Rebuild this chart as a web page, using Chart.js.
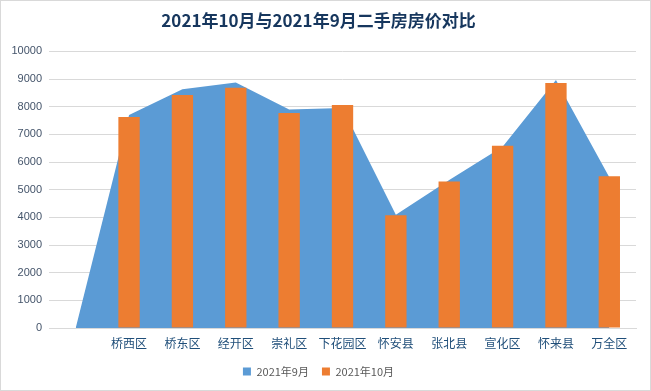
<!DOCTYPE html>
<html>
<head>
<meta charset="utf-8">
<script src="https://cdn.jsdelivr.net/npm/chart.js@4/dist/chart.umd.min.js"></script>
<style>
  html, body { margin: 0; padding: 0; background: #fff; }
  #wrap { width: 651px; height: 391px; box-sizing: border-box; border: 1px solid #d9d9d9; position: relative; }
  canvas { display: block; }
</style>
</head>
<body>
<div id="wrap"><canvas id="c" width="649" height="389"></canvas></div>
<script>
const categories = ["", "桥西区", "桥东区", "经开区", "崇礼区", "下花园区", "怀安县", "张北县", "宣化区", "怀来县", "万全区"];
const sep2021 = [0, 7700, 8630, 8880, 7900, 7950, 4100, 5350, 6550, 8970, 5450];
const oct2021 = [null, 7630, 8420, 8690, 7770, 8060, 4080, 5300, 6590, 8860, 5490];
const yTicks = [0, 1000, 2000, 3000, 4000, 5000, 6000, 7000, 8000, 9000, 10000];

const FONT = "'Noto Sans CJK SC', 'Noto Sans', sans-serif";

new Chart(document.getElementById('c'), {
  data: {
    labels: categories,
    datasets: [
      {
        type: 'line',
        label: '2021年9月',
        data: sep2021,
        fill: 'origin',
        backgroundColor: '#5B9BD5',
        borderColor: '#5B9BD5',
        borderWidth: 0,
        pointRadius: 0,
        tension: 0,
        order: 2
      },
      {
        type: 'bar',
        label: '2021年10月',
        data: oct2021,
        backgroundColor: '#ED7D31',
        borderWidth: 0,
        categoryPercentage: 1,
        barPercentage: 0.4,
        order: 1
      }
    ]
  },
  options: {
    responsive: false,
    animation: false,
    layout: { padding: { left: 0, right: 14, top: 0, bottom: 3 } },
    plugins: {
      title: {
        display: true,
        text: '2021年10月与2021年9月二手房房价对比',
        color: '#17375E',
        font: { family: FONT, size: 17, weight: 'bold' },
        padding: { top: 9, bottom: 21 }
      },
      legend: {
        position: 'bottom',
        labels: {
          boxWidth: 8,
          boxHeight: 8,
          color: '#595959',
          font: { family: FONT, size: 11 },
          padding: 13,
          sort: (a, b) => a.datasetIndex - b.datasetIndex
        }
      },
      tooltip: { enabled: false }
    },
    scales: {
      x: {
        offset: true,
        grid: { display: false, offset: true },
        border: { display: true, color: '#d9d9d9' },
        afterFit: (s) => { s.height += 2.5; },
        ticks: { color: '#1F4E79', font: { family: FONT, size: 12 }, padding: 0, maxRotation: 0, autoSkip: false }
      },
      y: {
        min: 0,
        max: 10000,
        afterBuildTicks: (s) => { s.ticks = yTicks.map(v => ({ value: v })); },
        afterFit: (s) => { s.width = 48; },
        grid: { color: '#d9d9d9', drawTicks: false },
        border: { display: false },
        ticks: {
          color: '#44546A',
          font: { family: 'Liberation Sans, Arial, sans-serif', size: 11 },
          padding: 7,
          callback: (v) => String(v)
        }
      }
    }
  }
});
</script>
</body>
</html>
